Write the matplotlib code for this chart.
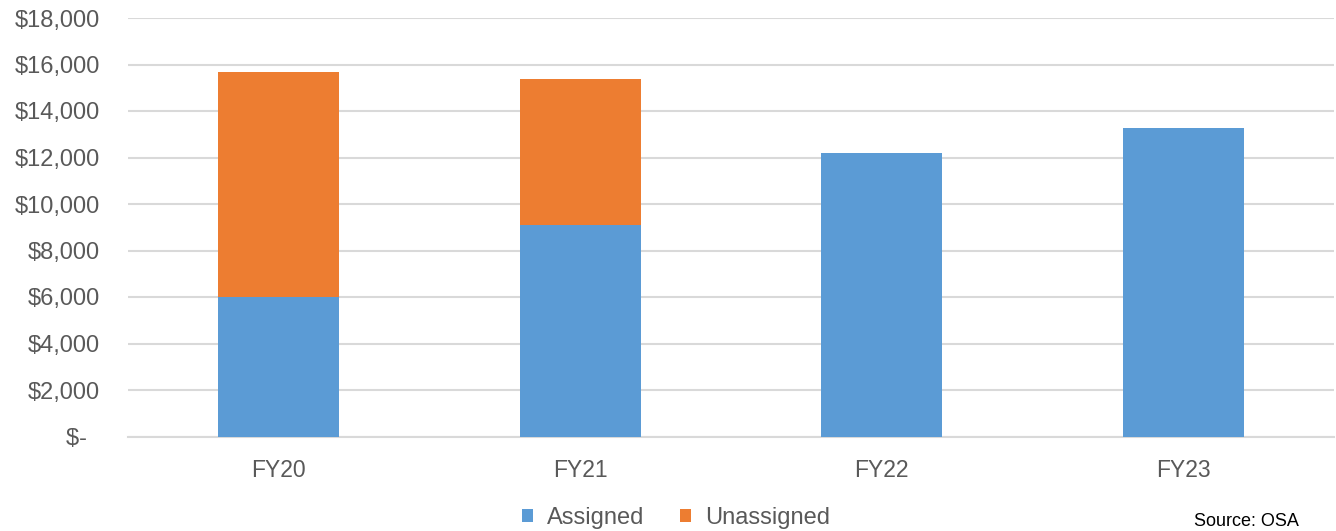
import matplotlib.pyplot as plt
import numpy as np
from matplotlib.ticker import FuncFormatter

years = ["FY20", "FY21", "FY22", "FY23"]
assigned = [5990, 9090, 12200, 13270]
unassigned = [9700, 6270, 0, 0]

plt.rcParams['font.family'] = ['Liberation Sans', 'DejaVu Sans']

fig = plt.figure(figsize=(13.36, 5.31), dpi=100)
ax = fig.add_axes([128 / 1336, 1 - 436.5 / 531, 1206 / 1336, 418.5 / 531])

x = np.arange(len(years))
ax.bar(x, assigned, width=0.4, color="#5B9BD5", label="Assigned", zorder=3)
ax.bar(x, unassigned, width=0.4, bottom=assigned, color="#ED7D31", label="Unassigned", zorder=3)

ax.set_xlim(-0.5, 3.5)
ax.set_ylim(0, 18000)
ax.set_yticks(range(0, 18001, 2000))


def money(v, pos):
    # accounting style zero
    if v == 0:
        return "$-  "
    return "${:,.0f}".format(v)


ax.yaxis.set_major_formatter(FuncFormatter(money))
ax.set_xticks(x)
ax.set_xticklabels(years)
ax.tick_params(axis="both", length=0, labelcolor="#595959")
ax.tick_params(axis="y", pad=20, labelsize=17)
ax.tick_params(axis="x", pad=16, labelsize=16.5)
ax.grid(axis="y", color="#d9d9d9", linewidth=1.5, zorder=0)
for s in ["top", "right", "left"]:
    ax.spines[s].set_visible(False)
ax.spines["bottom"].set_color("#d9d9d9")
ax.spines["bottom"].set_linewidth(1.5)

leg = fig.legend(loc="center", bbox_to_anchor=(676 / 1336, 1 - 518 / 531), ncol=2,
                 frameon=False, fontsize=17, handlelength=0.47, handleheight=0.47,
                 handletextpad=0.6, columnspacing=1.5, borderpad=0)
for t in leg.get_texts():
    t.set_color("#595959")

fig.text(1299 / 1336, 1 - 522 / 531, "Source: OSA", ha="right", va="center", fontsize=13, color="black")

fig.savefig("out.png", dpi=100)
